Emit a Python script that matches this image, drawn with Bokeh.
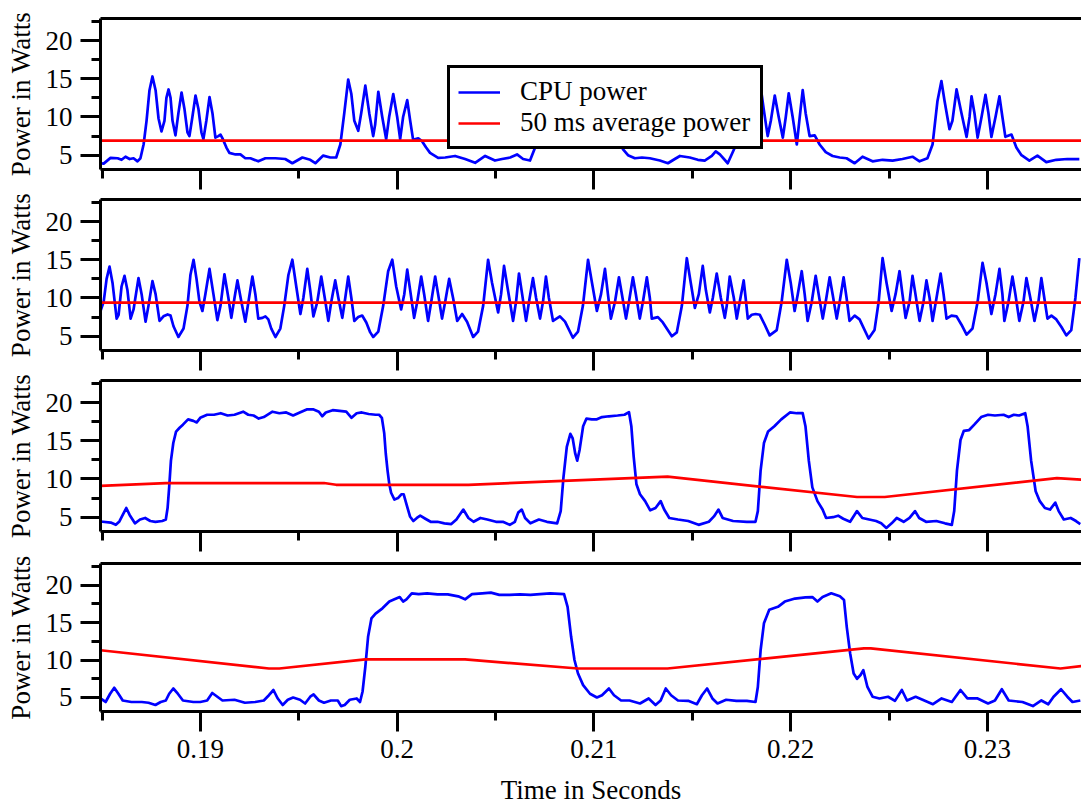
from bokeh.plotting import figure
from bokeh.models import FixedTicker, LinearAxis, Range1d
from bokeh.layouts import column
from bokeh.embed import file_html
from bokeh.resources import INLINE

FONT = "Liberation Serif"

# ---------------- data (time in milliseconds, power in watts) ----------------
cpu1_ms = [184.92, 185.08, 185.43, 185.79, 185.99, 186.19, 186.40, 186.60, 186.80, 186.95,
           187.11, 187.26, 187.41, 187.56, 187.72, 187.87, 188.02, 188.17, 188.27, 188.38,
           188.48, 188.58, 188.73, 188.88, 189.04, 189.19, 189.34, 189.44, 189.59, 189.75,
           189.90, 190.05, 190.15, 190.30, 190.46, 190.61, 190.76, 190.91, 191.02, 191.12,
           191.32, 191.47, 191.78, 192.03, 192.28, 192.54, 192.94, 193.30, 193.81, 194.31,
           194.67, 195.18, 195.58, 195.84, 196.24, 196.60, 196.90, 197.11, 197.31, 197.51,
           197.67, 197.82, 198.02, 198.17, 198.38, 198.58, 198.78, 198.88, 199.04, 199.24,
           199.44, 199.59, 199.80, 200.00, 200.15, 200.30, 200.51, 200.66, 200.81, 201.07,
           201.27, 201.47, 201.67, 202.08, 202.44, 202.94, 203.45, 203.96, 204.47, 204.97,
           205.33, 205.74, 206.09, 206.40, 206.75, 207.01, 207.21, 207.41, 207.56, 207.71,
           207.87, 208.07, 208.22, 208.43, 208.63, 208.83, 208.93, 209.09, 209.29, 209.49,
           209.65, 209.85, 210.05, 210.20, 210.36, 210.56, 210.71, 210.86, 211.12, 211.32,
           211.47, 211.73, 212.08, 212.44, 212.84, 213.35, 213.76, 214.11, 214.37, 214.87,
           215.28, 215.63, 215.99, 216.19, 216.40, 216.80, 217.16, 217.36, 217.51, 217.67,
           217.82, 217.97, 218.17, 218.33, 218.48, 218.63, 218.83, 218.99, 219.19, 219.39,
           219.60, 219.75, 219.90, 220.10, 220.31, 220.46, 220.61, 220.76, 220.96, 221.22,
           221.47, 221.78, 222.13, 222.49, 222.84, 223.25, 223.65, 224.16, 224.67, 225.18,
           225.68, 226.19, 226.55, 226.95, 227.21, 227.46, 227.66, 227.82, 228.07, 228.22,
           228.43, 228.68, 228.94, 229.09, 229.19, 229.34, 229.50, 229.70, 229.90, 230.05,
           230.20, 230.41, 230.61, 230.76, 230.91, 231.22, 231.47, 231.73, 232.13, 232.54,
           232.99, 233.50, 234.06, 234.67]
cpu1_w = [3.95, 3.9, 4.65, 4.6, 4.4, 4.8, 4.5, 4.6, 4.2, 4.6,
          6.4, 9.5, 13.5, 15.3, 13.5, 9.8, 8.1, 9.5, 12.5, 13.6,
          12.5, 9.5, 7.6, 10.5, 13.2, 11.0, 8.0, 7.5, 10.0, 12.8,
          11.0, 8.0, 7.1, 9.5, 12.6, 10.5, 7.3, 7.5, 7.7, 7.2,
          6.0, 5.3, 5.1, 5.1, 4.6, 4.6, 4.2, 4.6, 4.6, 4.5,
          3.95, 4.7, 4.4, 3.95, 4.95, 4.7, 4.7, 6.4, 10.5, 14.9,
          13.0, 9.5, 8.2, 10.5, 14.1, 10.5, 7.5, 9.0, 13.3, 10.0,
          7.1, 10.0, 13.0, 10.0, 7.1, 10.0, 12.2, 9.5, 7.0, 7.2,
          6.8, 6.0, 5.3, 4.65, 4.7, 4.9, 4.5, 4.0, 4.9, 4.3,
          4.5, 4.7, 5.1, 4.5, 4.3, 6.0, 9.0, 13.5, 15.0, 13.0,
          9.5, 8.0, 10.5, 13.8, 10.5, 7.5, 9.0, 13.2, 10.0, 7.2,
          10.0, 12.9, 10.0, 7.1, 10.0, 12.5, 9.5, 7.2, 7.5, 6.8,
          5.8, 5.0, 4.6, 4.7, 4.6, 4.3, 3.95, 4.5, 4.9, 4.7,
          4.4, 4.3, 4.9, 5.5, 5.1, 3.95, 6.0, 9.5, 13.0, 14.9,
          13.0, 9.5, 8.3, 10.5, 13.8, 11.0, 7.5, 9.5, 12.8, 10.0,
          7.3, 10.0, 13.1, 10.0, 6.4, 10.0, 13.5, 10.5, 7.5, 7.6,
          6.4, 5.4, 4.9, 4.7, 4.6, 3.95, 4.8, 4.2, 4.4, 4.3,
          4.5, 4.8, 4.2, 4.6, 6.4, 12.1, 14.7, 12.1, 8.4, 9.5,
          13.6, 10.5, 7.4, 10.0, 12.7, 10.5, 7.3, 10.0, 12.9, 10.5,
          7.4, 10.0, 12.7, 10.0, 7.4, 7.7, 6.0, 5.0, 4.3, 4.95,
          4.1, 4.4, 4.5, 4.5]
avg1_ms = [184.9, 234.8]
avg1_w = [6.9, 6.9]

cpu2_ms = [184.92, 185.08, 185.23, 185.38, 185.53, 185.74, 185.84, 185.99, 186.14, 186.29,
           186.45, 186.60, 186.85, 187.01, 187.21, 187.36, 187.56, 187.72, 187.92, 188.12,
           188.33, 188.48, 188.63, 188.88, 189.14, 189.34, 189.49, 189.65, 189.80, 189.95,
           190.10, 190.25, 190.46, 190.66, 190.86, 191.02, 191.22, 191.42, 191.57, 191.73,
           191.88, 192.08, 192.28, 192.44, 192.64, 192.79, 192.94, 193.15, 193.30, 193.45,
           193.60, 193.81, 194.06, 194.26, 194.47, 194.67, 194.87, 195.08, 195.23, 195.43,
           195.58, 195.74, 195.94, 196.14, 196.35, 196.50, 196.65, 196.85, 197.01, 197.21,
           197.36, 197.51, 197.67, 197.82, 198.02, 198.22, 198.43, 198.63, 198.78, 199.04,
           199.29, 199.54, 199.75, 199.95, 200.20, 200.36, 200.51, 200.66, 200.86, 201.02,
           201.22, 201.37, 201.57, 201.73, 201.93, 202.08, 202.28, 202.44, 202.64, 202.84,
           203.05, 203.30, 203.55, 203.86, 204.11, 204.37, 204.62, 204.82, 205.13, 205.28,
           205.43, 205.63, 205.89, 206.04, 206.19, 206.35, 206.55, 206.70, 206.90, 207.06,
           207.26, 207.41, 207.56, 207.71, 207.92, 208.27, 208.53, 208.93, 209.19, 209.44,
           209.70, 209.90, 210.15, 210.36, 210.56, 210.71, 210.86, 211.07, 211.27, 211.42,
           211.63, 211.78, 211.98, 212.13, 212.33, 212.49, 212.69, 212.84, 212.94, 213.25,
           213.50, 213.96, 214.21, 214.47, 214.72, 214.92, 215.13, 215.33, 215.53, 215.69,
           215.89, 216.04, 216.24, 216.45, 216.65, 216.75, 216.90, 217.11, 217.26, 217.41,
           217.61, 217.71, 217.82, 218.02, 218.22, 218.43, 218.68, 218.93, 219.29, 219.54,
           219.80, 220.00, 220.20, 220.36, 220.56, 220.71, 220.86, 221.07, 221.27, 221.42,
           221.63, 221.78, 221.98, 222.13, 222.34, 222.49, 222.69, 222.84, 222.99, 223.25,
           223.50, 223.96, 224.26, 224.47, 224.67, 224.87, 225.13, 225.33, 225.53, 225.68,
           225.84, 226.04, 226.19, 226.34, 226.55, 226.75, 226.90, 227.06, 227.21, 227.41,
           227.62, 227.77, 227.92, 228.17, 228.43, 228.68, 228.94, 229.24, 229.50, 229.75,
           229.95, 230.20, 230.41, 230.61, 230.76, 230.86, 231.07, 231.27, 231.42, 231.62,
           231.83, 231.98, 232.18, 232.39, 232.59, 232.74, 232.89, 233.05, 233.25, 233.50,
           233.76, 234.01, 234.26, 234.47, 234.67]
cpu2_w = [8.3, 9.5, 12.5, 14.1, 12.0, 7.3, 7.8, 11.5, 12.9, 11.0,
          7.3, 8.5, 12.6, 10.5, 6.9, 9.0, 12.2, 10.5, 7.0, 7.6,
          7.85, 7.7, 6.3, 4.9, 6.0, 9.0, 13.0, 15.0, 12.5, 9.5,
          8.3, 10.5, 13.8, 10.5, 7.1, 9.0, 13.1, 10.0, 7.4, 10.0,
          12.3, 9.5, 6.9, 9.5, 12.8, 10.5, 7.3, 7.4, 7.6, 7.2,
          6.0, 4.9, 6.0, 9.0, 13.0, 15.0, 11.5, 7.9, 10.0, 13.8,
          11.0, 7.6, 9.5, 12.8, 9.5, 7.0, 9.5, 12.3, 10.0, 7.4,
          10.0, 12.8, 10.0, 7.0, 7.5, 7.7, 6.8, 5.5, 4.9, 5.6,
          9.0, 13.5, 15.0, 11.5, 8.5, 10.5, 13.7, 11.0, 7.4, 9.5,
          12.8, 10.5, 7.0, 9.5, 12.8, 10.5, 7.3, 9.5, 12.5, 10.0,
          7.0, 7.9, 6.9, 4.9, 5.6, 9.0, 15.0, 12.0, 8.1, 10.5,
          14.2, 11.0, 7.0, 9.5, 13.2, 10.5, 7.0, 9.5, 12.6, 10.0,
          7.3, 9.5, 12.8, 10.0, 7.0, 7.6, 6.9, 4.8, 5.6, 9.0,
          15.0, 12.0, 8.3, 10.5, 13.8, 10.5, 7.3, 9.5, 12.7, 10.5,
          7.3, 9.5, 12.7, 10.5, 7.3, 9.5, 12.7, 10.0, 7.3, 7.5,
          6.8, 5.0, 5.5, 9.0, 15.2, 12.0, 8.7, 10.5, 14.2, 11.0,
          8.1, 10.0, 13.2, 10.0, 7.4, 9.0, 12.8, 10.0, 7.3, 9.5,
          12.3, 10.0, 7.3, 7.8, 7.9, 7.8, 6.5, 5.1, 5.8, 9.5,
          15.0, 12.0, 8.3, 10.5, 13.5, 10.5, 7.0, 9.5, 12.9, 10.5,
          7.3, 9.5, 12.7, 10.5, 7.3, 9.5, 12.7, 10.0, 7.0, 7.7,
          7.2, 4.7, 5.8, 9.5, 15.2, 12.0, 8.3, 10.5, 13.5, 10.5,
          7.4, 9.5, 12.9, 10.5, 7.0, 9.5, 12.3, 10.0, 7.0, 10.0,
          13.2, 10.5, 7.3, 7.7, 7.6, 6.5, 5.2, 6.0, 9.5, 14.6,
          12.0, 7.9, 10.5, 13.8, 10.5, 7.0, 9.5, 12.8, 10.5, 7.0,
          9.5, 12.6, 10.0, 7.0, 9.5, 12.6, 10.0, 7.3, 7.7, 7.2,
          6.2, 5.1, 5.8, 10.0, 15.2]
avg2_ms = [184.9, 234.8]
avg2_w = [9.4, 9.4]

cpu3_ms = [184.92, 185.44, 185.70, 185.88, 186.05, 186.23, 186.40, 186.67, 186.93, 187.19,
           187.45, 187.71, 188.06, 188.24, 188.33, 188.41, 188.50, 188.62, 188.76, 188.94,
           189.11, 189.37, 189.64, 189.81, 189.99, 190.34, 190.69, 191.03, 191.38, 191.73,
           192.17, 192.43, 192.70, 192.96, 193.22, 193.66, 194.01, 194.36, 194.71, 195.05,
           195.40, 195.75, 196.02, 196.19, 196.37, 196.72, 197.07, 197.41, 197.68, 197.94,
           198.20, 198.55, 198.90, 199.08, 199.22, 199.34, 199.42, 199.51, 199.60, 199.69,
           199.86, 200.04, 200.21, 200.33, 200.47, 200.65, 200.82, 201.00, 201.17, 201.43,
           201.70, 202.05, 202.40, 202.75, 203.01, 203.36, 203.62, 203.88, 204.23, 204.58,
           205.02, 205.37, 205.72, 205.98, 206.15, 206.33, 206.50, 206.77, 207.20, 207.61,
           208.13, 208.31, 208.45, 208.62, 208.80, 208.92, 209.05, 209.15, 209.27, 209.45,
           209.62, 209.89, 210.15, 210.41, 210.76, 211.20, 211.55, 211.78, 211.90, 212.02,
           212.16, 212.34, 212.60, 212.86, 213.13, 213.39, 213.57, 213.83, 214.27, 214.79,
           215.32, 215.84, 216.10, 216.33, 216.54, 217.07, 217.77, 218.21, 218.33, 218.47,
           218.64, 218.85, 219.17, 219.52, 219.96, 220.31, 220.61, 220.75, 220.92, 221.10,
           221.36, 221.62, 221.80, 222.15, 222.41, 222.67, 223.02, 223.37, 223.64, 223.99,
           224.34, 224.60, 224.86, 225.13, 225.39, 225.74, 226.04, 226.32, 226.53, 226.88,
           227.40, 227.84, 228.19, 228.31, 228.45, 228.63, 228.80, 229.07, 229.33, 229.68,
           230.03, 230.38, 230.82, 231.08, 231.34, 231.61, 231.92, 232.04, 232.22, 232.45,
           232.66, 232.92, 233.18, 233.45, 233.62, 233.88, 234.23, 234.50, 234.72]
cpu3_w = [4.44, 4.3, 4.0, 4.44, 5.3, 6.2, 5.3, 4.2, 4.7, 4.9,
          4.5, 4.4, 4.5, 4.7, 6.2, 8.9, 12.4, 14.7, 16.2, 16.7,
          17.1, 17.8, 17.6, 17.4, 18.0, 18.4, 18.4, 18.6, 18.3, 18.4,
          18.8, 18.4, 18.3, 17.9, 18.1, 18.8, 18.6, 18.7, 18.3, 18.7,
          19.1, 19.1, 18.8, 18.2, 18.7, 19.0, 18.9, 18.8, 18.0, 18.6,
          18.7, 18.5, 18.4, 18.4, 18.0, 16.0, 13.3, 11.1, 9.3, 8.2,
          7.3, 7.5, 8.0, 8.0, 6.7, 5.1, 4.5, 4.9, 5.2, 4.8,
          4.4, 4.4, 4.2, 4.1, 4.7, 6.0, 4.9, 4.4, 4.9, 4.7,
          4.4, 4.4, 4.0, 4.4, 5.6, 6.0, 4.9, 4.2, 4.7, 4.4,
          4.2, 5.8, 10.2, 14.2, 15.9, 15.3, 13.3, 12.4, 13.8, 16.9,
          17.9, 17.8, 17.8, 18.1, 18.2, 18.3, 18.4, 18.75, 16.9, 12.9,
          9.3, 8.0, 7.1, 5.9, 6.2, 7.1, 6.0, 4.9, 4.7, 4.5,
          4.0, 4.4, 5.1, 6.0, 4.9, 4.5, 4.4, 4.4, 5.8, 11.1,
          14.7, 16.2, 16.9, 17.8, 18.7, 18.6, 18.6, 16.9, 12.4, 8.9,
          7.1, 6.0, 4.9, 5.0, 5.2, 4.8, 4.4, 5.8, 4.9, 4.7,
          4.5, 4.2, 3.6, 4.2, 4.9, 4.4, 4.9, 5.8, 4.9, 4.4,
          4.5, 4.2, 4.0, 5.8, 11.1, 15.1, 16.3, 16.4, 17.1, 18.1,
          18.4, 18.3, 18.4, 18.1, 18.4, 18.3, 18.6, 16.9, 12.4, 8.4,
          7.1, 6.2, 6.0, 6.9, 5.8, 4.7, 4.9, 4.5, 4.1]
avg3_ms = [184.92, 188.24, 196.28, 196.89, 203.62, 213.74, 223.37, 224.78, 233.53, 234.8]
avg3_w = [9.1, 9.47, 9.47, 9.24, 9.24, 10.3, 7.64, 7.64, 10.1, 9.9]

cpu4_ms = [184.92, 185.18, 185.41, 185.62, 185.83, 186.05, 186.49, 187.02, 187.36, 187.71,
           187.98, 188.24, 188.41, 188.62, 188.85, 189.11, 189.64, 189.99, 190.34, 190.60,
           190.86, 191.12, 191.73, 192.26, 192.78, 193.22, 193.48, 193.71, 193.92, 194.18,
           194.44, 194.71, 195.06, 195.32, 195.58, 195.75, 196.02, 196.28, 196.63, 196.98,
           197.15, 197.33, 197.59, 197.94, 198.11, 198.24, 198.38, 198.52, 198.69, 198.90,
           199.25, 199.60, 199.86, 200.13, 200.30, 200.47, 200.74, 201.09, 201.52, 202.05,
           202.57, 203.10, 203.45, 203.80, 204.32, 204.76, 205.19, 205.72, 206.24, 206.77,
           207.26, 207.78, 208.48, 208.66, 208.84, 209.01, 209.19, 209.45, 209.80, 210.15,
           210.41, 210.76, 211.02, 211.38, 211.81, 212.34, 212.78, 213.13, 213.39, 213.65,
           213.92, 214.27, 214.79, 215.23, 215.49, 215.75, 216.02, 216.28, 216.72, 217.24,
           217.77, 218.21, 218.33, 218.47, 218.64, 218.91, 219.35, 219.70, 220.22, 220.75,
           221.10, 221.36, 221.62, 222.06, 222.50, 222.71, 222.85, 223.02, 223.20, 223.37,
           223.55, 223.69, 223.90, 224.16, 224.51, 224.95, 225.30, 225.65, 225.91, 226.35,
           226.79, 227.23, 227.67, 228.19, 228.63, 228.98, 229.50, 230.03, 230.38, 230.73,
           231.08, 231.78, 232.31, 232.74, 233.09, 233.36, 233.74, 234.06, 234.32, 234.72]
cpu4_w = [4.87, 4.4, 5.5, 6.3, 5.5, 4.6, 4.4, 4.4, 4.3, 4.0,
          4.4, 4.6, 5.5, 6.2, 5.5, 4.6, 4.4, 4.4, 4.6, 5.6,
          5.1, 4.6, 4.7, 4.3, 4.4, 4.6, 5.3, 6.0, 4.9, 4.0,
          4.7, 5.0, 4.7, 4.2, 5.1, 5.4, 4.6, 4.3, 4.6, 4.6,
          3.85, 4.0, 4.7, 4.87, 4.4, 5.8, 9.1, 13.1, 15.55, 16.2,
          16.9, 17.8, 18.1, 18.4, 17.8, 18.1, 18.9, 18.8, 18.9, 18.75,
          18.75, 18.5, 18.1, 18.8, 18.9, 19.0, 18.7, 18.7, 18.75, 18.7,
          18.8, 18.9, 18.8, 17.1, 13.1, 10.0, 8.2, 6.65, 5.5, 5.0,
          5.3, 6.2, 5.3, 4.6, 4.6, 4.2, 4.87, 4.0, 4.6, 6.2,
          5.3, 4.6, 4.55, 4.1, 5.3, 6.2, 4.87, 4.2, 4.7, 4.55,
          4.55, 4.4, 6.4, 11.3, 14.9, 16.7, 17.1, 17.8, 18.2, 18.35,
          18.4, 17.8, 18.4, 18.9, 18.5, 18.0, 14.4, 10.9, 8.2, 7.5,
          8.0, 8.65, 6.4, 5.1, 4.87, 5.1, 4.55, 6.0, 4.6, 5.1,
          4.6, 4.1, 4.87, 4.4, 6.0, 4.87, 4.87, 4.2, 4.6, 6.1,
          4.6, 4.4, 3.85, 4.6, 4.1, 5.1, 6.1, 5.1, 4.4, 4.6]
avg4_ms = [184.92, 193.48, 194.01, 198.38, 203.45, 209.19, 213.74, 223.72, 224.07, 233.71, 234.8]
avg4_w = [11.3, 8.87, 8.87, 10.08, 10.08, 8.87, 8.87, 11.55, 11.55, 8.87, 9.2]

x_major = [0.19, 0.2, 0.21, 0.22, 0.23]
x_minor = [0.185, 0.195, 0.205, 0.215, 0.225]
x_labels = ["0.19", "0.2", "0.21", "0.22", "0.23"]
y_major = [5, 10, 15, 20]
y_minor = [7.5, 12.5, 17.5, 22.5]
series_names = ["CPU power", "50 ms average power"]

# ---------------- layout ----------------
W = 1081
LEFT = 100
X0, X1 = 0.18492, 0.23478
Y0, Y1 = 3.13, 22.88


def style_axis(ax):
    ax.axis_line_width = 3
    ax.axis_line_color = "black"
    ax.major_tick_line_width = 3
    ax.minor_tick_line_width = 3
    ax.major_tick_in = 0
    ax.minor_tick_in = 0
    ax.major_tick_out = 20
    ax.minor_tick_out = 9
    ax.major_label_text_font = FONT
    ax.major_label_text_font_size = "27px"
    ax.major_label_text_color = "black"
    ax.axis_label_text_font = FONT
    ax.axis_label_text_font_size = "27px"
    ax.axis_label_text_font_style = "normal"
    ax.axis_label_text_color = "black"


def panel(t_ms, cpu, ta_ms, avg, top, frame_h, bottom, last=False, legend=False):
    p = figure(width=W, height=top + frame_h + bottom, output_backend="svg",
               toolbar_location=None, x_range=Range1d(X0, X1), y_range=Range1d(Y0, Y1),
               min_border_left=LEFT, min_border_right=0, min_border_top=top,
               min_border_bottom=bottom, outline_line_color=None)
    p.grid.visible = False
    p.background_fill_color = "white"
    p.border_fill_color = "white"

    xa = p.xaxis[0]
    style_axis(xa)
    xa.ticker = FixedTicker(ticks=x_major, minor_ticks=x_minor)
    if last:
        xa.major_label_overrides = {v: s for v, s in zip(x_major, x_labels)}
        xa.major_label_standoff = 8
        xa.axis_label = "Time in Seconds"
        xa.axis_label_standoff = 14
    else:
        xa.major_label_text_font_size = "1px"
        xa.major_label_text_color = None
        xa.major_label_standoff = 0

    ya = p.yaxis[0]
    style_axis(ya)
    ya.ticker = FixedTicker(ticks=y_major, minor_ticks=y_minor)
    ya.axis_label = "Power in Watts"
    ya.major_label_standoff = 8
    ya.axis_label_standoff = 7

    topax = LinearAxis(ticker=FixedTicker(ticks=[], minor_ticks=[]),
                       axis_line_width=3, axis_line_color="black",
                       major_tick_out=0, major_tick_in=0, minor_tick_out=0, minor_tick_in=0,
                       major_label_text_font_size="1px", major_label_text_color=None,
                       major_label_standoff=0)
    p.add_layout(topax, "above")

    t = [v / 1000.0 for v in t_ms]
    ta = [v / 1000.0 for v in ta_ms]
    kw_b = dict(line_color="#0000FF", line_width=2.7, line_join="round")
    kw_r = dict(line_color="#FF0000", line_width=2.7, line_join="round")
    if legend:
        p.line(t, cpu, legend_label=series_names[0], **kw_b)
        p.line(ta, avg, legend_label=series_names[1], **kw_r)
        lg = p.legend[0]
        lg.location = (347, 20)
        lg.label_text_font = FONT
        lg.label_text_font_size = "27px"
        lg.label_text_color = "black"
        lg.border_line_color = "black"
        lg.border_line_alpha = 1.0
        lg.border_line_width = 3
        lg.background_fill_color = "white"
        lg.background_fill_alpha = 1.0
        lg.padding = 8
        lg.spacing = 0
        lg.margin = 0
        lg.glyph_width = 42
        lg.label_standoff = 20
        lg.label_height = 28
        lg.label_width = 232
    else:
        p.line(t, cpu, **kw_b)
        p.line(ta, avg, **kw_r)
    return p


p1 = panel(cpu1_ms, cpu1_w, avg1_ms, avg1_w, 18, 151, 22, legend=True)
p2 = panel(cpu2_ms, cpu2_w, avg2_ms, avg2_w, 8, 151, 22)
p3 = panel(cpu3_ms, cpu3_w, avg3_ms, avg3_w, 8, 151, 22)
p4 = panel(cpu4_ms, cpu4_w, avg4_ms, avg4_w, 10, 149, 95, last=True)

layout = column(p1, p2, p3, p4, spacing=0)
open("out.html", "w").write(file_html(layout, INLINE))
